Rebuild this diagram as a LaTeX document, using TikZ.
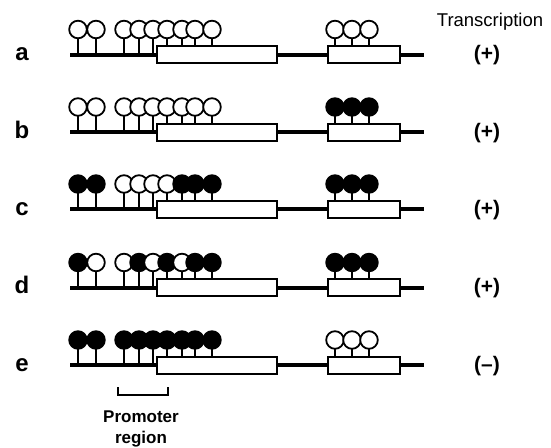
\documentclass[tikz,border=0pt]{standalone}
\usepackage{fontspec}
\setmainfont{Liberation Sans}
\tikzset{
  dna/.style={line width=4pt},
  exon/.style={draw, line width=2pt, fill=white},
  stem/.style={line width=1.5pt},
  m/.style={draw, line width=1.8pt, fill=black},
  u/.style={draw, line width=1.8pt, fill=white},
  rowlab/.style={font=\bfseries\fontsize{24}{24}\selectfont, anchor=base, inner sep=0pt},
  tlab/.style={font=\bfseries\fontsize{21}{21}\selectfont, anchor=base, inner sep=0pt},
  plab/.style={font=\bfseries\fontsize{17}{17}\selectfont, anchor=base, inner sep=0pt},
}
\newcommand\lolli[3]{%
  \pgfmathsetmacro\yb{#1<157 ? #2 : #2-8.5}%
  \pgfmathsetmacro\yc{#2-25}%
  \draw[stem] (#1,\yb) -- (#1,\yc+8);
  \draw[#3] (#1,\yc) circle[radius=8.8pt];
}
\newcommand\generow[4]{% y0, letter, list x/state, transcription
  \draw[dna] (70,#1) -- (424,#1);
  \draw[exon] (157,#1-8.5) rectangle (277,#1+8.5);
  \draw[exon] (328,#1-8.5) rectangle (400,#1+8.5);
  \foreach \xx/\st in {#3} {\lolli{\xx}{#1}{\st}}
  \node[rowlab] (lab#2) at (22,#1+6) {#2};
  \node[tlab] (tr#2) at (487,#1+6) {#4};
}
\begin{document}
\begin{tikzpicture}[x=1pt,y=-1pt]
  \useasboundingbox[fill=white] (0,0) rectangle (551,447);
  \node[font=\fontsize{18.5}{18.5}\selectfont, anchor=base, inner sep=0pt] (title) at (490,26.5) {Transcription};
  \generow{54.5}{a}{78/u,96/u,124/u,139/u,153/u,167/u,182/u,195/u,212/u,335/u,352/u,369/u}{(+)}
  \generow{132}{b}{78/u,96/u,124/u,139/u,153/u,167/u,182/u,195/u,212/u,335/m,352/m,369/m}{(+)}
  \generow{209}{c}{78/m,96/m,124/u,139/u,153/u,167/u,182/m,195/m,212/m,335/m,352/m,369/m}{(+)}
  \generow{287.5}{d}{78/m,96/u,124/u,139/m,153/u,167/m,182/u,195/m,212/m,335/m,352/m,369/m}{(+)}
  \generow{365}{e}{78/m,96/m,124/m,139/m,153/m,167/m,182/m,195/m,212/m,335/u,352/u,369/u}{(–)}
  \draw[line width=1.5pt] (118,387) -- (118,395) -- (168,395) -- (168,387);
  \node[plab] (prom) at (141,422.5) {Promoter};
  \node[plab] (reg) at (141,443) {region};
\end{tikzpicture}
\end{document}
